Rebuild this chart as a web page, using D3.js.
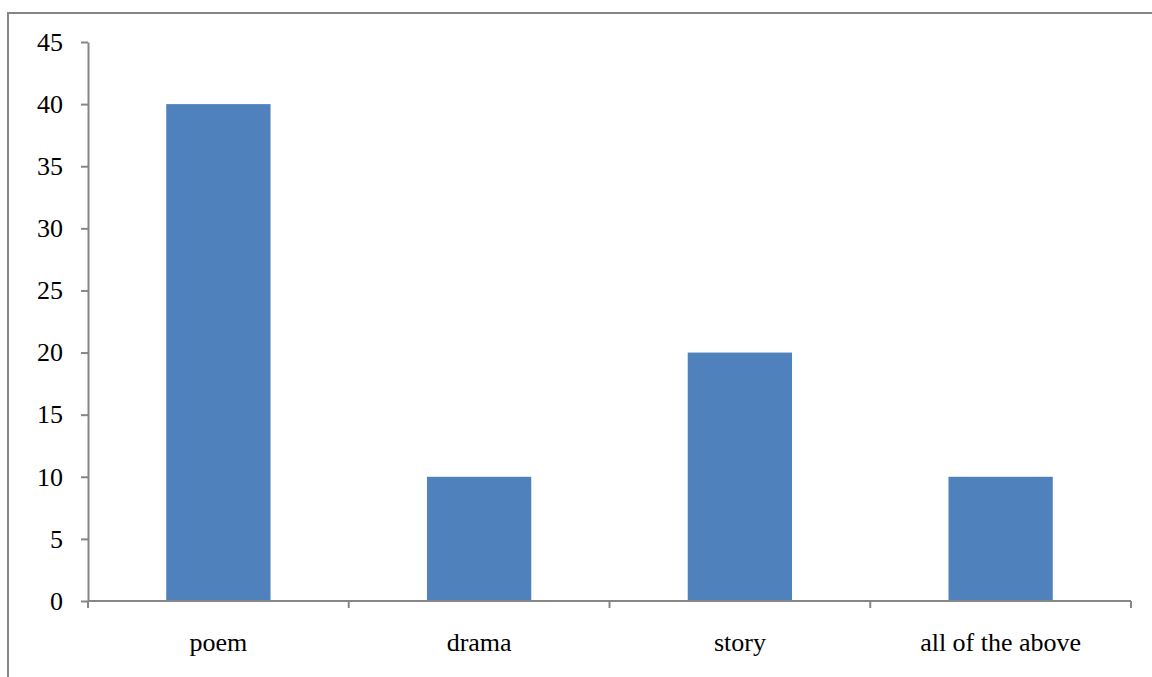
<!DOCTYPE html>
<html>
<head>
<meta charset="utf-8">
<script src="https://cdn.jsdelivr.net/npm/d3@7"></script>
<style>
  html, body { margin: 0; padding: 0; background: #fff; }
  svg { display: block; }
  text { font-family: "Liberation Serif", "Times New Roman", serif; fill: #000; }
</style>
</head>
<body>
<svg id="chart" width="1152" height="677"></svg>
<script>
// Survey responses by literary genre
const categories = ["poem", "drama", "story", "all of the above"];
const values = [40, 10, 20, 10];
const yTicks = [0, 5, 10, 15, 20, 25, 30, 35, 40, 45];

const W = 1152, H = 677;
const plot = { left: 88, right: 1131, top: 42, bottom: 601 };
const axisColor = "#868686";
const barColor = "#4F81BD";

const svg = d3.select("#chart");

// chart area frame (top and left edges)
svg.append("path")
  .attr("d", `M8,${H} V13 H${W}`)
  .attr("fill", "none")
  .attr("stroke", axisColor)
  .attr("stroke-width", 2);

const x = d3.scaleBand()
  .domain(categories)
  .range([plot.left, plot.right])
  .paddingInner(0.6)
  .paddingOuter(0.3);

const y = d3.scaleLinear()
  .domain([0, 45])
  .range([plot.bottom, plot.top]);

// bars
svg.append("g")
  .selectAll("rect")
  .data(values)
  .join("rect")
  .attr("x", (d, i) => x(categories[i]))
  .attr("y", d => y(d))
  .attr("width", x.bandwidth())
  .attr("height", d => y(0) - y(d))
  .attr("fill", barColor);

// y axis
const yAxis = svg.append("g")
  .attr("transform", `translate(${plot.left},0)`)
  .call(d3.axisLeft(y).tickValues(yTicks).tickSize(7).tickPadding(18).tickSizeOuter(0));
yAxis.select(".domain").attr("stroke", axisColor).attr("stroke-width", 2);
yAxis.selectAll(".tick line").attr("stroke", axisColor).attr("stroke-width", 2);
yAxis.selectAll(".tick text")
  .attr("font-size", 26)
  .style("font-family", '"Liberation Serif", serif')
  .attr("fill", "#000");

// x axis: ticks sit at band boundaries
const boundaries = d3.range(categories.length + 1);
const step = x.step();
const x0 = plot.left;
const xAxis = svg.append("g").attr("transform", `translate(0,${plot.bottom})`);
xAxis.append("line")
  .attr("x1", plot.left).attr("x2", plot.right)
  .attr("stroke", axisColor).attr("stroke-width", 2);
xAxis.selectAll("line.tick")
  .data(boundaries)
  .join("line")
  .attr("class", "tick")
  .attr("x1", i => x0 + i * (plot.right - plot.left) / categories.length)
  .attr("x2", i => x0 + i * (plot.right - plot.left) / categories.length)
  .attr("y1", 0).attr("y2", 7)
  .attr("stroke", axisColor).attr("stroke-width", 2);
xAxis.selectAll("text")
  .data(categories)
  .join("text")
  .attr("x", d => x(d) + x.bandwidth() / 2)
  .attr("y", 50)
  .attr("text-anchor", "middle")
  .attr("font-size", 26)
  .text(d => d);
</script>
</body>
</html>
